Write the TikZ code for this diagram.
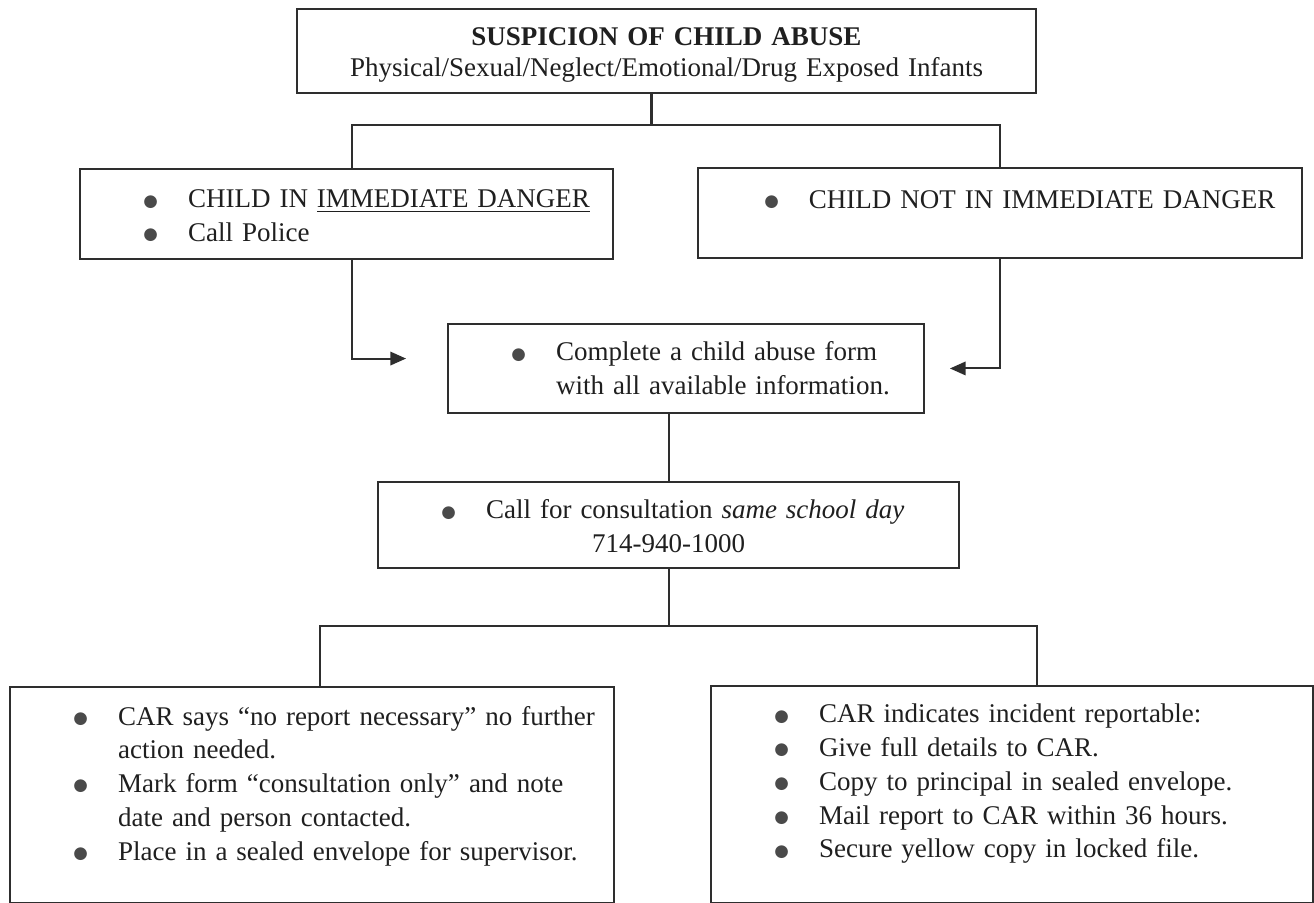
\documentclass[tikz,border=0pt]{standalone}
\usepackage{fontspec}
\setmainfont{Liberation Serif}
\newfontfamily\dotfont{DejaVu Sans}
\usepackage{xcolor}
\usepackage{tikz}
\usetikzlibrary{arrows.meta,calc}
\definecolor{ink}{HTML}{1F1F1F}
\definecolor{wire}{HTML}{2E2E2E}
\definecolor{dot}{HTML}{4A4A4A}
\newlength{\leftgap}\setlength{\leftgap}{28.2pt}
\newlength{\bulletgap}\setlength{\bulletgap}{19.8pt}
\newcommand{\itm}{\hspace*{\leftgap}\makebox[\bulletgap][l]{\raisebox{0.8pt}{\dotfont\fontsize{7.4}{7.4}\selectfont\textcolor{dot}{●}}}}
\newcommand{\cnt}{\hspace*{\leftgap}\hspace*{\bulletgap}}
\tikzset{
  font=\fontsize{12}{15}\selectfont,
  box/.style={
    draw=wire, line width=0.9pt, text=ink, anchor=north west,
    inner sep=0pt, align=left
  },
  headbox/.style={box, align=center, font=\fontsize{12}{13.8}\selectfont},
  link/.style={draw=wire, line width=0.9pt},
  flow/.style={link, -{Triangle[length=7pt,width=6pt]}}
}

\begin{document}
\begin{tikzpicture}[x=0.4444pt,y=-0.4444pt]
  \useasboundingbox (0,0) rectangle (1314,903);

  \node[headbox, text width=328.4pt, text height=16pt, text depth=21.3pt] (suspicion) at (296,8)
    {\textbf{SUSPICION OF CHILD ABUSE}\\Physical/Sexual/Neglect/Emotional/Drug Exposed Infants};

  \node[box, text width=236.9pt, text height=17.3pt, text depth=22.7pt] (danger) at (79,168)
    {\itm CHILD IN \underline{IMMEDIATE DANGER}\\\itm Call Police};
  \node[box, text width=268.4pt, text height=17.8pt, text depth=22.2pt] (nodanger) at (697,167)
    {\hspace*{1.3pt}\itm CHILD NOT IN IMMEDIATE DANGER};

  \node[box, text width=211.5pt, text height=16.4pt, text depth=23.1pt] (form) at (447,323)
    {\itm Complete a child abuse form\\\cnt with all available information.};

  \node[box, text width=258.2pt, text height=16.4pt, text depth=21.8pt] (consult) at (377,481)
    {\itm Call for consultation \textit{same school day}\\\makebox[\linewidth]{714-940-1000}};

  \node[box, text width=268.4pt, text height=16.9pt, text depth=79.1pt] (noreport) at (9,686)
    {\itm CAR says “no report necessary” no further\\
     \cnt action needed.\\
     \itm Mark form “consultation only” and note\\
     \cnt date and person contacted.\\
     \itm Place in a sealed envelope for supervisor.};
  \node[box, text width=267.6pt, text height=16.4pt, text depth=80pt] (report) at (710,685)
    {\itm CAR indicates incident reportable:\\
     \itm Give full details to CAR.\\
     \itm Copy to principal in sealed envelope.\\
     \itm Mail report to CAR within 36 hours.\\
     \itm Secure yellow copy in locked file.};

  % split under the heading
  \draw[link] ($(suspicion.south)+(-15,0)$) -- ++(0,31) coordinate (fork1);
  \draw[link] ([xshift=2.4pt]danger.north) |- (fork1) -| (nodanger.north);

  % both branches into the form
  \draw[flow, shorten >=18.2pt] ([xshift=2.4pt]danger.south) |- ([yshift=4.4pt]form.west);
  \draw[flow, shorten >=11.1pt] (nodanger.south) |- (form.east);

  % form -> consultation
  \draw[link] (consult.north) -- (consult.north |- form.south);

  % split to the two outcomes
  \draw[link] (consult.south) -- ++(0,57) coordinate (fork2);
  \draw[link] ([xshift=3.6pt]noreport.north) |- (fork2) -| ([xshift=11.1pt]report.north);
\end{tikzpicture}
\end{document}
